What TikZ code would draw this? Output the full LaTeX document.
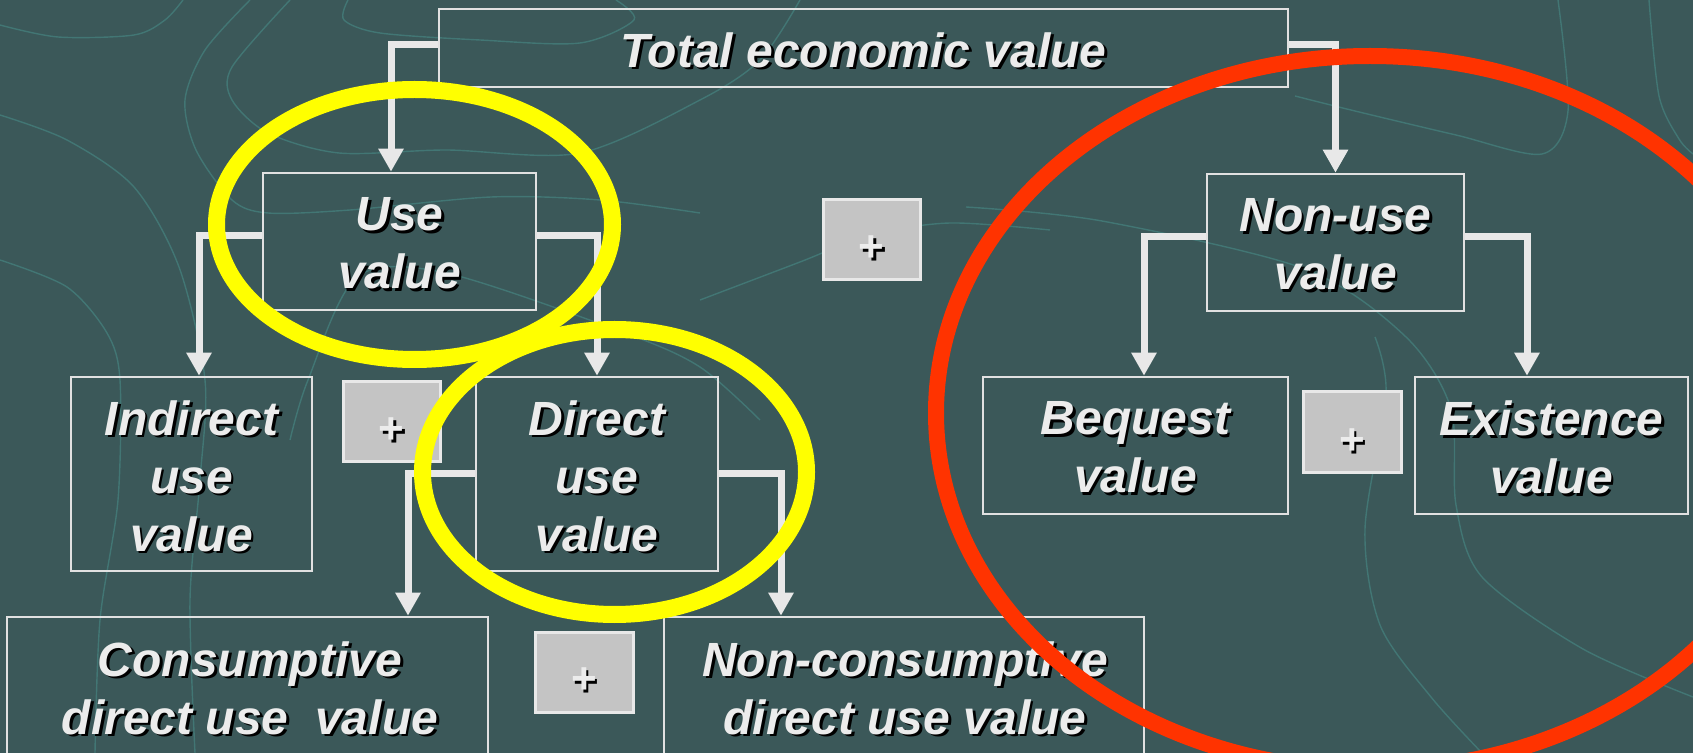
\documentclass[tikz,border=0pt]{standalone}
\usepackage{fontspec}
\setmainfont{Liberation Sans}
\usetikzlibrary{arrows.meta,fit}
\definecolor{bgc}{RGB}{59,88,89}
\definecolor{contour}{RGB}{66,118,116}
\definecolor{boxline}{RGB}{225,225,225}
\definecolor{txtc}{RGB}{236,236,236}
\definecolor{connc}{RGB}{232,232,232}
\definecolor{plusfill}{RGB}{196,196,196}
\definecolor{plusline}{RGB}{232,232,232}
\definecolor{ringyellow}{RGB}{255,255,0}
\definecolor{ringred}{RGB}{255,51,0}
\newcommand\shtext[4][]{%
  \node[txtshadow,#1] (#2-sh) at ([xshift=1.4pt,yshift=-1.4pt]#3) {#4};
  \node[txtmain,#1] (#2) at (#3) {#4};}
\begin{document}
\begin{tikzpicture}[x=0.5pt,y=-0.5pt,
  vbox/.style={draw=boxline,line width=1.3pt,inner sep=0pt},
  plusbox/.style={draw=plusline,fill=plusfill,line width=1.5pt,inner sep=0pt},
  txtbase/.style={inner sep=0pt,align=center,yshift=-1pt,font=\fontsize{24pt}{29pt}\selectfont\bfseries\itshape},
  txtmain/.style={txtbase,text=txtc},
  txtshadow/.style={txtbase,text=black},
  plustxt/.style={font=\fontsize{22pt}{26pt}\selectfont\bfseries,yshift=-3.5pt},
  conn/.style={draw=connc,line width=3.5pt,-{Triangle[length=11.5pt,width=12pt]}},
  contourline/.style={draw=contour,line width=0.7pt},
  yring/.style={draw=ringyellow,line width=8.5pt},
  rring/.style={draw=ringred,line width=8pt}]
\fill[bgc] (0,0) rectangle (1693,753);
\useasboundingbox (0,0) rectangle (1693,753);
% background contour lines
\draw[contourline] plot[smooth] coordinates {(0,25) (58,37) (134,35) (165,20) (183,0)};
\draw[contourline] plot[smooth] coordinates {(0,115) (67,140) (134,187) (179,267) (205,380) (200,480) (190,600) (195,753)};
\draw[contourline] plot[smooth] coordinates {(0,260) (67,287) (107,333) (120,380) (118,500) (100,620) (95,753)};
\draw[contourline] plot[smooth] coordinates {(250,0) (205,50) (185,100) (196,150) (232,200) (268,213) (350,210) (491,197) (600,200) (700,213)};
\draw[contourline] plot[smooth] coordinates {(290,0) (232,67) (232,100) (268,133) (339,153) (446,150) (580,153) (700,100) (760,60) (800,0)};
\draw[contourline] plot[smooth] coordinates {(348,0) (344,20) (380,33) (480,40) (580,43) (634,20) (616,0)};
\draw[contourline] plot[smooth] coordinates {(290,440) (308,380) (357,277) (446,273) (625,333) (700,367) (760,420)};
\draw[contourline] plot[smooth] coordinates {(700,300) (800,262) (870,235) (950,223) (1050,230)};
\draw[contourline] plot[smooth] coordinates {(1649,0) (1659,96) (1679,139) (1693,154)};
\draw[contourline] plot[smooth] coordinates {(966,207) (1102,221) (1305,269) (1406,337) (1451,409) (1456,505) (1482,577) (1583,649) (1693,697)};
\draw[contourline] plot[smooth] coordinates {(1375,337) (1386,394) (1365,529) (1380,625) (1431,697) (1482,753)};
\draw[contourline] plot[smooth] coordinates {(1295,96) (1355,111) (1456,135) (1542,154) (1568,111) (1558,0)};
% boxes
\node[vbox, fit={(439,9) (1288,87)}] (total) {};
\node[vbox, fit={(263,173) (536,310)}] (use) {};
\node[vbox, fit={(1207,174) (1464,311)}] (nonuse) {};
\node[vbox, fit={(71,377) (312,571)}] (indirect) {};
\node[vbox, fit={(476,377) (718,571)}] (direct) {};
\node[vbox, fit={(983,377) (1288,514)}] (bequest) {};
\node[vbox, fit={(1415,377) (1688,514)}] (existence) {};
\node[vbox, fit={(7,617) (488,765)}] (consump) {};
\node[vbox, fit={(664,617) (1144,765)}] (noncons) {};
% connectors
\draw[conn] ([yshift=1.5pt]total.west) -| ([xshift=-4.25pt]use.north);
\draw[conn] ([yshift=1.5pt]total.east) -| (nonuse.north);
\draw[conn] ([yshift=3pt]use.west) -| ([xshift=3.75pt]indirect.north);
\draw[conn] ([yshift=3pt]use.east) -| (direct.north);
\draw[conn] (direct.west) -| ([xshift=80.25pt]consump.north);
\draw[conn] (direct.east) -| ([xshift=-61.5pt]noncons.north);
\draw[conn] ([yshift=3pt]nonuse.west) -| ([xshift=4.25pt]bequest.north);
\draw[conn] ([yshift=3pt]nonuse.east) -| ([xshift=-12.25pt]existence.north);
% texts
\shtext{totalT}{total}{Total economic value}
\shtext{useT}{use}{Use\\value}
\shtext{nonuseT}{nonuse}{Non-use\\value}
\shtext{indirectT}{indirect}{Indirect\\use\\value}
\shtext{directT}{direct}{Direct\\use\\value}
\shtext{bequestT}{bequest}{Bequest\\value}
\shtext{existenceT}{existence}{Existence\\value}
\shtext{consumpT}{250,686}{Consumptive\\direct use\ \ value}
\shtext{nonconsT}{905,686}{Non-consumptive\\direct use value}
% plus boxes
\node[plusbox, fit={(823,200) (920,280)}] (plusA) {};
\node[plusbox, fit={(343,382) (440,462)}] (plusB) {};
\node[plusbox, fit={(1303,392) (1401,473)}] (plusC) {};
\node[plusbox, fit={(535,632) (633,712)}] (plusD) {};
\shtext[plustxt]{plusAT}{plusA}{+}
\shtext[plustxt]{plusBT}{plusB}{+}
\shtext[plustxt]{plusCT}{plusC}{+}
\shtext[plustxt]{plusDT}{plusD}{+}
% highlight rings
\draw[yring] (414.5,224.5) ellipse [x radius=99pt, y radius=67.5pt];
\draw[yring] (614.5,472) ellipse [x radius=96pt, y radius=71.25pt];
\draw[rring] (1370,413) ellipse [x radius=217pt, y radius=178.5pt];
\end{tikzpicture}
\end{document}
